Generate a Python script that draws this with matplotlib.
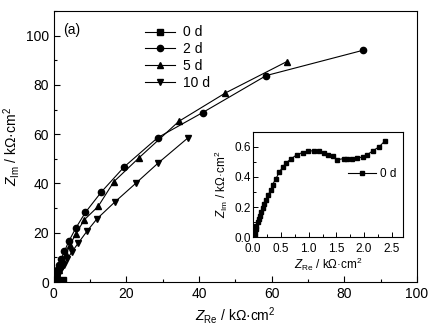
import matplotlib
matplotlib.use('Agg')
import matplotlib.pyplot as plt
from matplotlib.ticker import MultipleLocator

plt.rcParams['font.family'] = ['Liberation Sans', 'DejaVu Sans']
plt.rcParams['mathtext.fontset'] = 'custom'
plt.rcParams['mathtext.rm'] = 'Liberation Sans'
plt.rcParams['mathtext.it'] = 'Liberation Sans:italic'

# 0 d (also shown in the inset)
x0 = [0.03, 0.04, 0.05, 0.06, 0.08, 0.10, 0.12, 0.14, 0.17, 0.20, 0.23, 0.27, 0.32,
      0.35, 0.41, 0.47, 0.53, 0.59, 0.69, 0.79, 0.89, 0.99, 1.09, 1.18, 1.27, 1.34,
      1.43, 1.52, 1.63, 1.70, 1.79, 1.88, 1.98, 2.06, 2.16, 2.27, 2.38]
y0 = [0.009, 0.031, 0.053, 0.076, 0.098, 0.12, 0.143, 0.167, 0.193, 0.22, 0.249, 0.282,
      0.313, 0.349, 0.389, 0.431, 0.465, 0.493, 0.522, 0.549, 0.562, 0.571, 0.575,
      0.571, 0.56, 0.549, 0.538, 0.515, 0.522, 0.522, 0.522, 0.527, 0.533, 0.549,
      0.575, 0.60, 0.642]

# 2 d
x2 = [0.1, 0.15, 0.25, 0.35, 0.5, 0.7, 1.0, 1.4, 2.0, 2.9, 4.1, 6.0, 8.7, 13.1,
      19.4, 28.6, 41.0, 58.5, 85.0]
y2 = [0.5, 0.8, 1.3, 1.9, 2.7, 3.8, 5.2, 7.0, 9.4, 12.4, 16.5, 21.8, 28.3, 36.6,
      46.8, 58.6, 68.8, 83.8, 94.0]

# 5 d
x5 = [0.1, 0.15, 0.25, 0.4, 0.6, 0.9, 1.3, 1.8, 2.5, 3.4, 4.4, 6.0, 8.4, 12.2,
      16.5, 23.5, 34.4, 47.2, 64.2]
y5 = [0.4, 0.7, 1.1, 1.7, 2.5, 3.6, 4.9, 6.6, 8.7, 11.4, 14.9, 19.5, 25.3, 30.7,
      40.7, 50.5, 65.2, 76.7, 89.5]

# 10 d
x10 = [0.2, 0.3, 0.5, 0.7, 1.0, 1.4, 2.0, 2.7, 3.7, 5.0, 6.7, 9.2, 11.9, 16.8,
       22.5, 28.8, 37.0]
y10 = [0.5, 0.9, 1.4, 2.0, 2.8, 3.9, 5.3, 7.1, 9.4, 12.3, 15.8, 20.8, 25.7, 32.5,
       40.0, 48.4, 58.6]

fig = plt.figure(figsize=(4.38, 3.33), dpi=100)
ax = fig.add_axes([0.123, 0.153, 0.829, 0.814])

kw = dict(color='black', lw=0.8, ms=4.5)
ax.plot(x0, y0, marker='s', label='0 d', **kw)
ax.plot(x2, y2, marker='o', label='2 d', **kw)
ax.plot(x5, y5, marker='^', label='5 d', **kw)
ax.plot(x10, y10, marker='v', label='10 d', **kw)

ax.set_xlim(0, 100)
ax.set_ylim(0, 110)
ax.xaxis.set_major_locator(MultipleLocator(20))
ax.xaxis.set_minor_locator(MultipleLocator(10))
ax.yaxis.set_major_locator(MultipleLocator(20))
ax.yaxis.set_minor_locator(MultipleLocator(10))
ax.tick_params(which='both', direction='in', top=False, right=False, labelsize=10, width=0.8)
ax.tick_params(which='major', length=4)
ax.tick_params(which='minor', length=2.5)
for s in ax.spines.values():
    s.set_linewidth(0.8)
ax.set_xlabel(r'$Z_{\mathrm{Re}}$ / kΩ·cm$^2$', fontsize=10, labelpad=3)
ax.set_ylabel(r'$Z_{\mathrm{Im}}$ / kΩ·cm$^2$', fontsize=10, labelpad=3)
ax.text(0.025, 0.955, '(a)', transform=ax.transAxes, fontsize=10, va='top', ha='left')
ax.legend(loc='upper left', bbox_to_anchor=(0.235, 0.967), frameon=False, fontsize=10,
          handlelength=2.2, handletextpad=0.55, labelspacing=0.2, borderaxespad=0)

# inset
ins = fig.add_axes([0.578, 0.288, 0.342, 0.316])
ins.plot(x0, y0, marker='s', label='0 d', color='black', lw=0.8, ms=3)
ins.set_xlim(0, 2.7)
ins.set_ylim(0, 0.7)
ins.xaxis.set_major_locator(MultipleLocator(0.5))
ins.xaxis.set_minor_locator(MultipleLocator(0.25))
ins.yaxis.set_major_locator(MultipleLocator(0.2))
ins.yaxis.set_minor_locator(MultipleLocator(0.1))
ins.tick_params(which='both', direction='in', top=False, right=False, labelsize=8.5, width=0.7)
ins.tick_params(axis='x', pad=4)
ins.tick_params(axis='y', pad=1.5)
ins.tick_params(which='major', length=3.5)
ins.tick_params(which='minor', length=2)
for s in ins.spines.values():
    s.set_linewidth(0.8)
ins.set_xlabel(r'$Z_{\mathrm{Re}}$ / kΩ·cm$^2$', fontsize=8.5, labelpad=1)
ins.set_ylabel(r'$Z_{\mathrm{Im}}$ / kΩ·cm$^2$', fontsize=8.5, labelpad=3)
ins.legend(loc='center left', bbox_to_anchor=(0.6, 0.6), frameon=False, fontsize=8.5,
           handlelength=2.4, handletextpad=0.3, borderaxespad=0)

fig.savefig('out.png', dpi=100)
